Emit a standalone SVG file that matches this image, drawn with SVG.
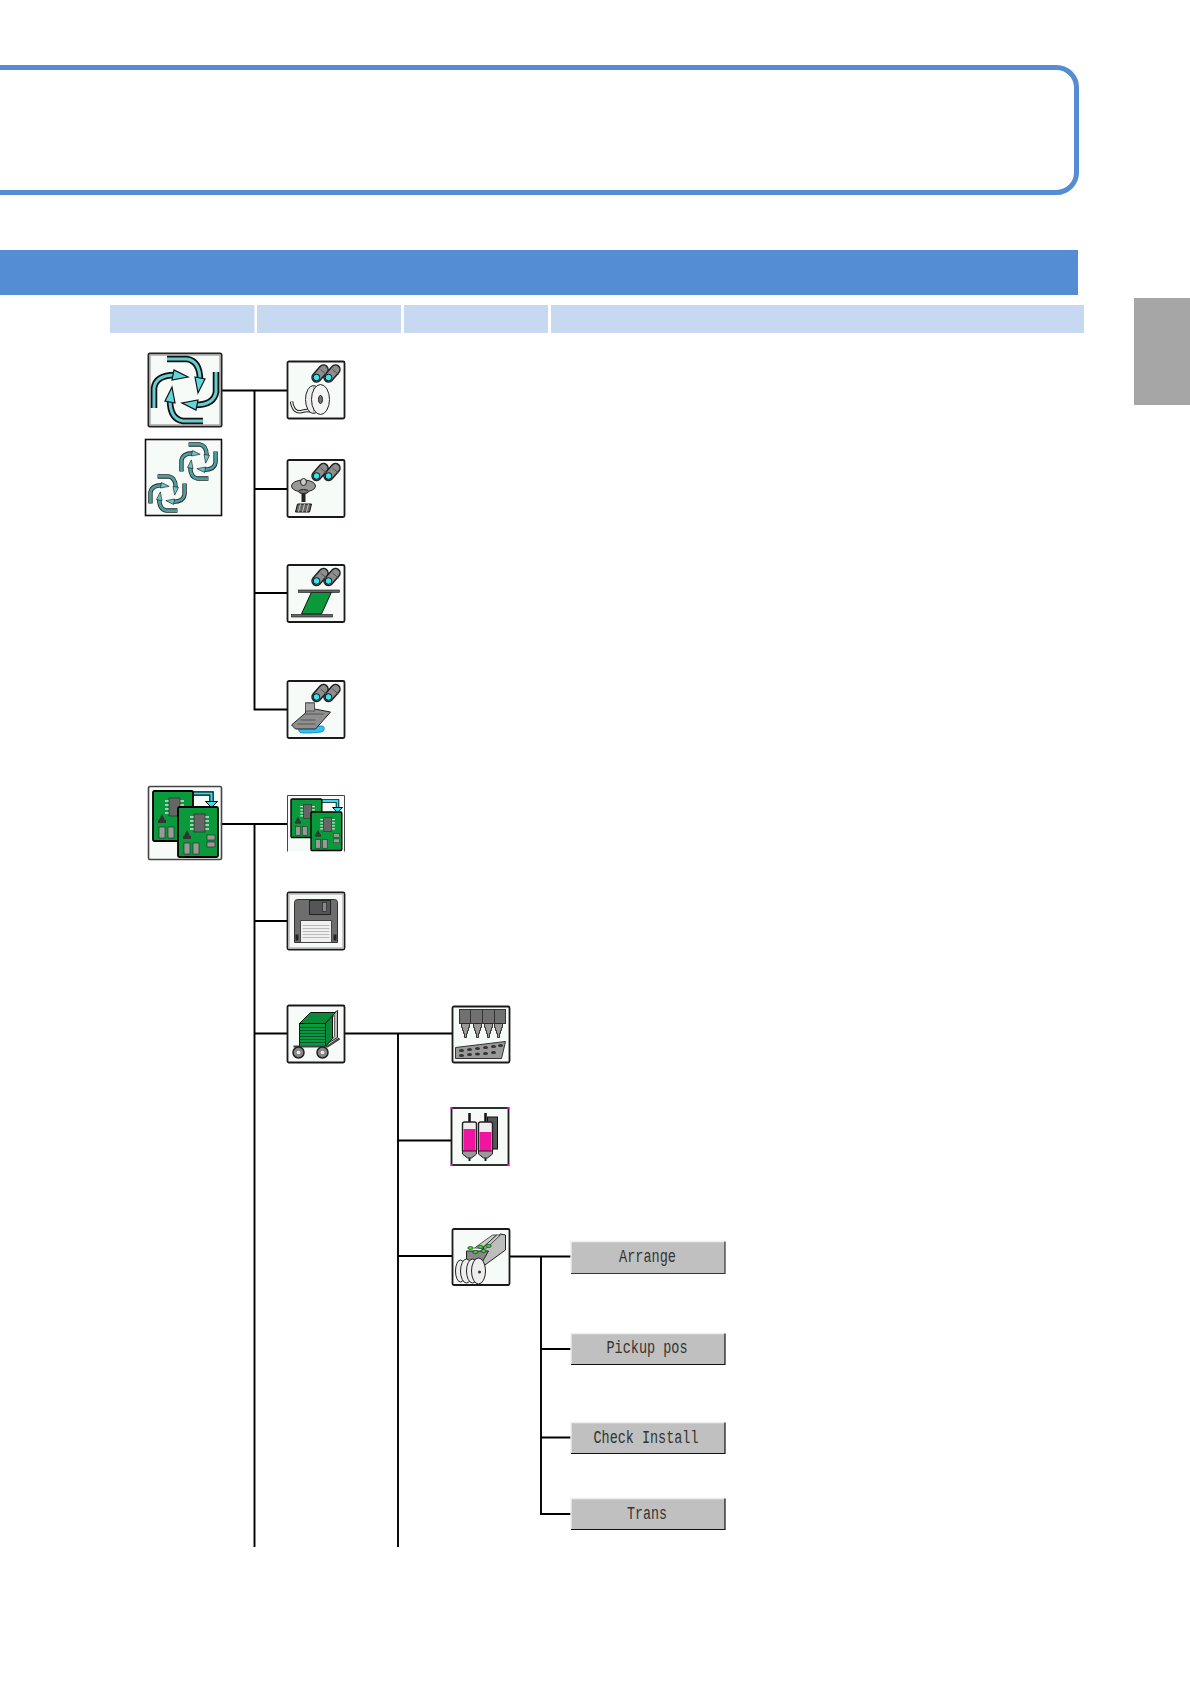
<svg xmlns="http://www.w3.org/2000/svg" width="1190" height="1684" viewBox="0 0 1190 1684">
<style>
.hdr{fill:#c6d9f1}
.tile{fill:#f6fbf8;stroke:#1a1a1a;stroke-width:1.8}
.ln{fill:none;stroke:#000;stroke-width:1.9}
.btn{fill:#c0c0c0;stroke:none}
.lbl{font-family:"Liberation Mono",monospace;font-size:18px;fill:#333;text-anchor:middle}
</style>
<defs>
<g id="arrow1">
<path d="M-18-31H2Q15-29 15-10" fill="none" stroke="#111" stroke-width="6.500"/>
<path d="M-18-31H2Q15-29 15-10" fill="none" stroke="#66cdd2" stroke-width="3"/>
<path d="M10-13L20-11L13 3Z" fill="#5fd8dc" stroke="#111" stroke-width="1.200"/>
</g>
<g id="swirl">
<use href="#arrow1"/><use href="#arrow1" transform="rotate(90)"/><use href="#arrow1" transform="rotate(180)"/><use href="#arrow1" transform="rotate(270)"/>
</g>
<g id="arrow2">
<path d="M-18-31H2Q15-29 15-10" fill="none" stroke="#222" stroke-width="8"/>
<path d="M-18-31H2Q15-29 15-10" fill="none" stroke="#4d9ea3" stroke-width="5"/>
<path d="M10-13L20-11L13 3Z" fill="#6cc6cb" stroke="#222" stroke-width="1.200"/>
</g>
<g id="swirl2">
<use href="#arrow2"/><use href="#arrow2" transform="rotate(90)"/><use href="#arrow2" transform="rotate(180)"/><use href="#arrow2" transform="rotate(270)"/>
</g>
<g id="bino">
<path d="M29 16L36 8M41 16L48 8" stroke="#222" stroke-width="10.500" stroke-linecap="round"/>
<path d="M29 16L36 8M41 16L48 8" stroke="#8d8d8d" stroke-width="7.500" stroke-linecap="round"/>
<path d="M33 8L39 13M45 8L51 13" stroke="#555" stroke-width="1"/>
<circle cx="29" cy="16" r="3.300" fill="#38e6ee" stroke="#111"/>
<circle cx="41" cy="16" r="3.300" fill="#38e6ee" stroke="#111"/>
</g>
<g id="pcb">
<rect x="0" y="0" width="40" height="50" rx="1.500" fill="#0a9a3c" stroke="#000" stroke-width="1.800"/>
<path d="M12 10h4M12 14h4M12 18h4M12 22h4M27 10h4M27 14h4M27 18h4M27 22h4" stroke="#ddd" stroke-width="1.600"/>
<rect x="16" y="7" width="11" height="18" fill="#666" stroke="#222" stroke-width=".6"/>
<path d="M6 29l3-6 3 6z" fill="#333"/><rect x="5" y="29" width="8" height="3" fill="#333"/>
<rect x="6" y="36" width="6" height="11" fill="#999" stroke="#222" stroke-width=".6"/>
<rect x="15" y="36" width="6" height="11" fill="#999" stroke="#222" stroke-width=".6"/>
</g>
<g id="pcbx">
<rect x="29" y="28" width="8" height="5" fill="#999" stroke="#222" stroke-width=".6"/>
<rect x="29" y="35" width="8" height="5" fill="#999" stroke="#222" stroke-width=".6"/>
</g>
<g id="nz">
<path d="M0 0H8V4H7V7H6V10H5V14H3V10H2V7H1V4H0Z" fill="#999" stroke="#222" stroke-width=".9"/>
</g>
</defs>

<rect id="callout" x="-20" y="67.500" width="1096.500" height="125" rx="20" fill="#fff" stroke="#548dd4" stroke-width="5"/>
<rect id="band" x="0" y="250" width="1078" height="45" fill="#548dd4"/>
<g id="headers">
<rect class="hdr" x="110" y="305" width="144.500" height="28"/>
<rect class="hdr" x="257" y="305" width="144" height="28"/>
<rect class="hdr" x="404" y="305" width="144" height="28"/>
<rect class="hdr" x="551" y="305" width="533" height="28"/>
</g>
<rect id="tab" x="1134" y="298" width="56" height="107" fill="#a6a6a6"/>

<g id="connectors">
<path class="ln" d="M221 390.500H287M254.500 390.500V709.500H287M254.500 489H287M254.500 593H287"/>
<path class="ln" d="M221 824H287M254.500 824V1547M254.500 921H287M254.500 1033.500H287"/>
<path class="ln" d="M344 1033.500H452M398 1033.500V1547M398 1140.500H452M398 1256H452"/>
<path class="ln" d="M509 1256.500H571M541 1256.500V1514H571M541 1349H571M541 1437.500H571"/>
</g>

<g id="n-swirl-big" transform="translate(148.500 353.500)">
<rect width="73" height="73" fill="#f6fbf8" stroke="#222" stroke-width="2" rx="1.500"/>
<rect x="1.500" y="1.500" width="70" height="70" fill="none" stroke="#aaa" stroke-width="1.500"/>
<use href="#swirl" transform="translate(36.500 36.500)"/>
</g>
<g id="n-swirl-double" transform="translate(145.500 439.500)">
<rect width="76" height="76" fill="#f6fbf8" stroke="#111" stroke-width="1.600"/>
<use href="#swirl2" transform="translate(53 22) scale(.55)"/>
<use href="#swirl2" transform="translate(22 54) scale(.55)"/>
</g>

<g id="n-reel" transform="translate(287.500 361.500)">
<rect class="tile" width="57" height="57" rx="1.500"/>
<use href="#bino"/>
<path d="M4 40Q6 52 14 50Q21 48 24 50" fill="none" stroke="#222" stroke-width="3.500"/>
<path d="M4 40Q6 52 14 50Q21 48 24 50" fill="none" stroke="#eee" stroke-width="1.500"/>
<ellipse cx="26" cy="38" rx="8" ry="14" fill="#eee" stroke="#222"/>
<path d="M26 24V52M28 24V52M30 24V52" stroke="#777" stroke-width=".6"/>
<ellipse cx="33" cy="38" rx="9" ry="15" fill="#f4f4f4" stroke="#222"/>
<ellipse cx="33" cy="38" rx="2" ry="4" fill="#777" stroke="#222"/>
</g>
<g id="n-nozzle" transform="translate(287.500 460)">
<rect class="tile" width="57" height="57" rx="1.500"/>
<use href="#bino"/>
<ellipse cx="16" cy="26" rx="12" ry="6" fill="#999" stroke="#222"/>
<ellipse cx="16" cy="22" rx="3" ry="3.500" fill="#ccc" stroke="#222"/>
<path d="M16 31V42" stroke="#222" stroke-width="4"/>
<ellipse cx="16" cy="31.500" rx="5" ry="2" fill="#777" stroke="#222"/>
<path d="M10 44H24L22 52H8Z" fill="#666" stroke="#111"/>
<path d="M13 44L11 52M17 44L15 52M21 44L19 52" stroke="#ddd" stroke-width=".8"/>
</g>
<g id="n-board" transform="translate(287.500 565)">
<rect class="tile" width="57" height="57" rx="1.500"/>
<use href="#bino"/>
<path d="M24 27H44L34 49H14Z" fill="#0a9a3c" stroke="#111"/>
<rect x="11" y="25" width="41" height="2.500" fill="#666" stroke="#111" stroke-width=".6"/>
<rect x="4" y="49.500" width="41" height="2.500" fill="#666" stroke="#111" stroke-width=".6"/>
</g>
<g id="n-head" transform="translate(287.500 681)">
<rect class="tile" width="57" height="57" rx="1.500"/>
<use href="#bino"/>
<path d="M11 48Q12 45 18 45H34Q38 45 36 50Q34 52 15 52Q11 52 11 48Z" fill="#2cc4ee" stroke="#1a8fd0"/>
<path d="M4 44L18 32V22H27V28L43 31L28 48H8Z" fill="#8f8f8f" stroke="#222"/>
<path d="M10 43H28M13 39H28M17 33H36" stroke="#555"/>
<rect x="18" y="22" width="9" height="8" fill="#a6a6a6" stroke="#555"/>
</g>

<g id="n-pcb-big" transform="translate(148.500 786.500)">
<rect width="73" height="73" fill="#f6fbf8" stroke="#444" stroke-width="1.600" rx="1.500"/>
<path d="M42 7H63V17" fill="none" stroke="#000" stroke-width="4.500"/>
<path d="M42 7H63V17" fill="none" stroke="#2fe0ee" stroke-width="2.200"/>
<path d="M57 15H69L63 21Z" fill="#2fe0ee" stroke="#000"/>
<use href="#pcb" transform="translate(4.500 4.500)"/>
<g transform="translate(29.500 20.500)"><use href="#pcb"/><use href="#pcbx"/></g>
</g>
<g id="n-pcb" transform="translate(287.500 795.500)">
<path d="M0 56V0H57V56" fill="#f6fbf8" stroke="#444"/>
<path d="M32 5.500H50V13" fill="none" stroke="#000" stroke-width="3.500"/>
<path d="M32 5.500H50V13" fill="none" stroke="#2fe0ee" stroke-width="1.800"/>
<path d="M45 12H55L50 17Z" fill="#2fe0ee" stroke="#000"/>
<use href="#pcb" transform="translate(3.500 3.500) scale(.77)"/>
<g transform="translate(23.500 16.500) scale(.77)"><use href="#pcb"/><use href="#pcbx"/></g>
</g>
<g id="n-floppy" transform="translate(287.500 892.500)">
<rect class="tile" width="57" height="57" rx="1.500"/>
<rect x="1.500" y="1.500" width="54" height="54" fill="none" stroke="#bbb" stroke-width="1.500"/>
<path d="M7 10Q7 7 10 7H47Q50 7 50 10V50H7Z" fill="#6e6e6e" stroke="#333"/>
<rect x="22" y="8" width="21" height="14" fill="#555" stroke="#222"/>
<rect x="35" y="10" width="4" height="9" fill="#888" stroke="#222" stroke-width=".6"/>
<rect x="13" y="28" width="31" height="22" fill="#f0f0f0" stroke="#444"/>
<path d="M15 33H42M15 36H42M15 39H42M15 42H42M15 45H42" stroke="#bbb"/>
<rect x="8" y="42" width="3" height="6" fill="#222"/><rect x="46" y="42" width="3" height="6" fill="#222"/>
</g>
<g id="n-cart" transform="translate(287.500 1005.500)">
<rect class="tile" width="57" height="57" rx="1.500"/>
<path d="M40 12L50 5V32L40 38Z" fill="#bbb" stroke="#222"/>
<path d="M44 12L47 10V31L44 33Z" fill="#f6fbf8" stroke="#444" stroke-width=".8"/>
<path d="M12 18L23 7H48L38 18Z" fill="#0a8a38" stroke="#111"/>
<path d="M38 18L45 10V33L38 41Z" fill="#0a8a38" stroke="#111"/>
<rect x="12" y="18" width="26" height="23" fill="#0a9a3c" stroke="#111"/>
<path d="M12 22H38M12 25H38M12 28H38M12 31H38M12 34H38M12 37H38" stroke="#053" stroke-width="1"/>
<path d="M6 41H40L52 33" fill="none" stroke="#444" stroke-width="2.200"/>
<circle cx="11" cy="47" r="5.500" fill="#888" stroke="#222" stroke-width="1.500"/><circle cx="11" cy="47" r="1.800" fill="#eee"/>
<circle cx="35" cy="47" r="5.500" fill="#888" stroke="#222" stroke-width="1.500"/><circle cx="35" cy="47" r="1.800" fill="#eee"/>
</g>
<g id="n-nozzles" transform="translate(452.500 1006.500)">
<rect class="tile" width="57" height="56" rx="1.500"/>
<rect x="7" y="3" width="46" height="14" fill="#707070" stroke="#333"/>
<path d="M18 3V17M30 3V17M42 3V17" stroke="#333"/>
<use href="#nz" transform="translate(9 17)"/><use href="#nz" transform="translate(21 17)"/><use href="#nz" transform="translate(32 17)"/><use href="#nz" transform="translate(42 17)"/>
<path d="M3 41L53 35L49 52H3Z" fill="#999" stroke="#333"/>
<g fill="#333"><ellipse cx="9" cy="44" rx="2.500" ry="1.500"/><ellipse cx="17" cy="43" rx="2.500" ry="1.500"/><ellipse cx="25" cy="42" rx="2.500" ry="1.500"/><ellipse cx="33" cy="41" rx="2.500" ry="1.500"/><ellipse cx="41" cy="40" rx="2.500" ry="1.500"/><ellipse cx="48" cy="39" rx="2.500" ry="1.500"/><ellipse cx="9" cy="49" rx="2.500" ry="1.500"/><ellipse cx="17" cy="48" rx="2.500" ry="1.500"/><ellipse cx="25" cy="47.500" rx="2.500" ry="1.500"/><ellipse cx="33" cy="47" rx="2.500" ry="1.500"/><ellipse cx="41" cy="46" rx="2.500" ry="1.500"/></g>
</g>
<g id="n-syringe" transform="translate(451.500 1108)">
<rect class="tile" width="57" height="57"/>
<path d="M-.9-.9h2v2h-2zM55.900-.9h2v2h-2zM-.9 55.900h2v2h-2zM55.900 55.900h2v2h-2z" fill="#f0f"/>
<rect x="36" y="9" width="10" height="32" fill="#555" stroke="#111"/>
<path d="M18 5V16M34 5V16" stroke="#111" stroke-width="2.500"/>
<rect x="11" y="14" width="14" height="30" rx="2" fill="#eee" stroke="#222" stroke-width="1.400"/>
<rect x="27" y="14" width="14" height="30" rx="2" fill="#eee" stroke="#222" stroke-width="1.400"/>
<rect x="12" y="21" width="12" height="23" fill="#f014a0"/>
<rect x="28" y="24" width="12" height="20" fill="#f014a0"/>
<path d="M11 43H25V46L20 50H16L11 46Z" fill="#999" stroke="#222"/><path d="M27 43H41V46L36 50H32L27 46Z" fill="#999" stroke="#222"/>
<path d="M18 50V53M34 50V53" stroke="#222" stroke-width="2"/>
</g>
<g id="n-feeder" transform="translate(452.500 1229)">
<rect class="tile" width="57" height="56" rx="1.500"/>
<path d="M28 22L48 5L53 6V21L31 37Z" fill="#bdbdbd" stroke="#222"/>
<path d="M22 19L40 6L44 6L30 19ZM30 19L44 6L48 6L34 19Z" fill="#ccc" stroke="#333" stroke-width=".8"/>
<path d="M14 22H36L28 36H14Z" fill="#888" stroke="#222"/>
<g fill="#2ce02c" stroke="#111" stroke-width=".6"><ellipse cx="18" cy="19" rx="2.800" ry="1.500"/><ellipse cx="28" cy="18" rx="2.800" ry="1.500"/><ellipse cx="36" cy="17" rx="2.800" ry="1.500"/><ellipse cx="23" cy="23" rx="2.800" ry="1.500"/><ellipse cx="31" cy="22" rx="2.800" ry="1.500"/></g>
<g fill="#eee" stroke="#222"><ellipse cx="8" cy="42" rx="5" ry="11"/><ellipse cx="14" cy="42" rx="6" ry="12"/><ellipse cx="20" cy="42" rx="6" ry="12"/><ellipse cx="26" cy="42" rx="7" ry="13"/></g>
<circle cx="27" cy="43" r="1.500" fill="#333"/>
</g>

<g id="b-arrange"><rect class="btn" x="571" y="1241.500" width="154" height="32"/><path d="M571 1273.500V1241.500H725" fill="none" stroke="#eee" stroke-width="1.400"/><path d="M571 1273.500H725V1241.500" fill="none" stroke="#333" stroke-width="1.200"/><text class="lbl" x="647.500" y="1262" textLength="57" lengthAdjust="spacingAndGlyphs">Arrange</text></g>
<g id="b-pickup"><rect class="btn" x="571" y="1333.500" width="154" height="31"/><path d="M571 1364.500V1333.500H725" fill="none" stroke="#eee" stroke-width="1.400"/><path d="M571 1364.500H725V1333.500" fill="none" stroke="#111" stroke-width="1.200"/><text class="lbl" x="647" y="1353" textLength="81" lengthAdjust="spacingAndGlyphs">Pickup pos</text></g>
<g id="b-check"><rect class="btn" x="571" y="1422.500" width="154" height="31"/><path d="M571 1453.500V1422.500H725" fill="none" stroke="#eee" stroke-width="1.400"/><path d="M571 1453.500H725V1422.500" fill="none" stroke="#111" stroke-width="1.200"/><text class="lbl" x="646" y="1443" textLength="105" lengthAdjust="spacingAndGlyphs">Check Install</text></g>
<g id="b-trans"><rect class="btn" x="571" y="1498.500" width="154" height="31"/><path d="M571 1529.500V1498.500H725" fill="none" stroke="#eee" stroke-width="1.400"/><path d="M571 1529.500H725V1498.500" fill="none" stroke="#111" stroke-width="1.200"/><text class="lbl" x="647" y="1519" textLength="40" lengthAdjust="spacingAndGlyphs">Trans</text></g>
</svg>
